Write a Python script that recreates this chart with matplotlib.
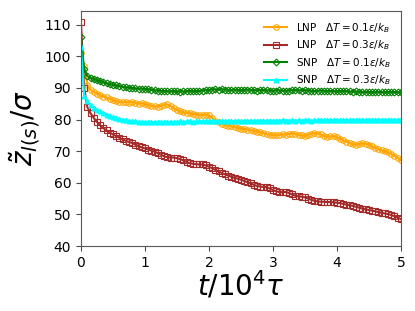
import matplotlib
matplotlib.use('Agg')
import matplotlib.pyplot as plt
import numpy as np

# sampling times in units of 10^4 tau (every 0.05)
t = np.linspace(0, 5, 101)

lnp_01 = [101.0, 97.0, 91.0, 89.4, 88.8, 88.2, 87.7, 87.3, 87.0, 86.6,
          86.2, 85.8, 85.6, 85.5, 85.6, 85.4, 85.5, 85.3, 85.0, 85.2,
          84.9, 84.6, 84.3, 84.2, 84.1, 84.4, 84.7, 84.8, 84.3, 83.6,
          83.0, 82.6, 82.3, 82.1, 82.0, 81.8, 81.6, 81.4, 81.5, 81.5,
          81.3, 80.6, 79.6, 79.1, 78.6, 78.3, 78.1, 77.9, 77.6, 77.3,
          77.1, 77.0, 76.8, 76.7, 76.4, 76.2, 76.0, 75.7, 75.4, 75.2,
          75.1, 75.0, 75.1, 75.3, 75.2, 75.4, 75.6, 75.5, 75.2, 75.0,
          74.8, 75.1, 75.5, 75.8, 75.6, 75.3, 74.8, 74.6, 74.7, 74.8,
          74.5, 74.0, 73.5, 73.0, 72.6, 72.2, 72.0, 72.2, 72.5, 72.4,
          72.1, 71.6, 71.0, 70.6, 70.3, 70.0, 69.6, 69.1, 68.5, 67.9,
          67.2]

lnp_03 = [111.0, 90.0, 84.0, 82.0, 80.5, 79.3, 78.2, 77.3, 76.6, 75.9,
          75.3, 74.8, 74.3, 73.8, 73.3, 72.9, 72.6, 72.1, 71.6, 71.2,
          70.9, 70.5, 70.2, 69.9, 69.4, 68.9, 68.4, 68.1, 68.0, 68.0,
          67.8, 67.5, 67.1, 66.6, 66.2, 66.0, 65.9, 65.8, 65.8, 65.5,
          65.1, 64.6, 64.1, 63.6, 63.1, 62.7, 62.3, 61.9, 61.6, 61.3,
          61.0, 60.6, 60.2, 59.8, 59.4, 59.0, 58.8, 58.7, 58.6, 58.2,
          57.7, 57.3, 57.1, 57.0, 57.1, 56.8, 56.3, 55.9, 55.7, 55.6,
          55.4, 55.0, 54.6, 54.3, 54.1, 54.0, 54.0, 53.9, 53.9, 53.8,
          53.7, 53.6, 53.3, 53.1, 52.9, 52.7, 52.4, 52.1, 51.8, 51.6,
          51.4, 51.2, 51.0, 50.7, 50.5, 50.3, 50.1, 49.8, 49.4, 49.0,
          48.5]

snp_01 = [106.0, 96.0, 93.8, 93.2, 92.8, 92.5, 92.1, 91.8, 91.5, 91.2,
          91.0, 90.8, 90.6, 90.4, 90.2, 90.1, 90.0, 89.9, 89.8, 89.8,
          89.7, 89.6, 89.4, 89.3, 89.2, 89.1, 89.0, 89.0, 88.9, 89.0,
          88.9, 88.8, 88.9, 89.0, 89.1, 89.0, 89.0, 89.1, 89.2, 89.3,
          89.4, 89.5, 89.6, 89.5, 89.6, 89.5, 89.4, 89.4, 89.5, 89.4,
          89.3, 89.4, 89.5, 89.4, 89.3, 89.2, 89.3, 89.4, 89.3, 89.2,
          89.1, 89.2, 89.3, 89.2, 89.1, 89.2, 89.3, 89.4, 89.3, 89.2,
          89.3, 89.2, 89.1, 89.0, 89.1, 89.2, 89.1, 89.0, 89.1, 89.0,
          88.9, 89.0, 89.1, 89.0, 88.9, 88.8, 88.9, 88.8, 88.7, 88.8,
          88.7, 88.6, 88.7, 88.8, 88.7, 88.6, 88.7, 88.8, 88.7, 88.6,
          88.6]

snp_03 = [103.0, 87.5, 86.0, 84.6, 83.7, 83.1, 82.6, 82.1, 81.6, 81.2,
          80.8, 80.5, 80.2, 80.0, 79.8, 79.6, 79.5, 79.4, 79.3, 79.3,
          79.2, 79.2, 79.1, 79.2, 79.2, 79.3, 79.2, 79.3, 79.3, 79.2,
          79.3, 79.4, 79.3, 79.4, 79.4, 79.3, 79.4, 79.5, 79.4, 79.5,
          79.5, 79.4, 79.5, 79.6, 79.5, 79.5, 79.6, 79.5, 79.6, 79.6,
          79.5, 79.6, 79.6, 79.7, 79.6, 79.6, 79.7, 79.6, 79.7, 79.7,
          79.6, 79.7, 79.7, 79.8, 79.7, 79.7, 79.8, 79.7, 79.8, 79.7,
          79.8, 79.8, 79.7, 79.8, 79.8, 79.9, 79.8, 79.8, 79.9, 79.8,
          79.9, 79.8, 79.9, 79.9, 79.8, 79.9, 79.9, 80.0, 79.9, 79.9,
          80.0, 79.9, 79.9, 80.0, 80.0, 79.9, 80.0, 80.0, 79.9, 80.0,
          80.0]

labels = [r'LNP   $\Delta T=0.1\epsilon/k_B$',
          r'LNP   $\Delta T=0.3\epsilon/k_B$',
          r'SNP   $\Delta T=0.1\epsilon/k_B$',
          r'SNP   $\Delta T=0.3\epsilon/k_B$']

fig = plt.figure(figsize=(4.15, 3.11), dpi=100)
ax = fig.add_axes([0.195, 0.209, 0.771, 0.757])

ax.plot(t, lnp_01, color='orange', marker='o', mfc='none', ms=4, mew=0.8, lw=1.5, label=labels[0])
ax.plot(t, lnp_03, color='brown', marker='s', mfc='none', ms=4.5, mew=0.8, lw=1.5, label=labels[1])
ax.plot(t, snp_01, color='green', marker='D', mfc='none', ms=3.5, mew=0.8, lw=1.5, label=labels[2])
ax.plot(t, snp_03, color='cyan', marker='^', ms=3.5, mew=0.8, lw=1.5, label=labels[3])

ax.set_xlim(0, 5)
ax.set_ylim(40, 114.5)
ax.set_yticks([40, 50, 60, 70, 80, 90, 100, 110])
ax.tick_params(labelsize=10, color='0.3')
for s in ax.spines.values():
    s.set_color('0.35')

ax.set_xlabel(r'$t/10^4\tau$', fontsize=20, labelpad=0)
ax.set_ylabel(r'$\tilde{z}_{l(s)}/\sigma$', fontsize=20, labelpad=2)

ax.legend(loc='upper right', fontsize=7.5, numpoints=1, frameon=False,
          borderaxespad=0.6, handlelength=2.2, handletextpad=0.8,
          labelspacing=0.35)

fig.savefig('out.png', dpi=100)
